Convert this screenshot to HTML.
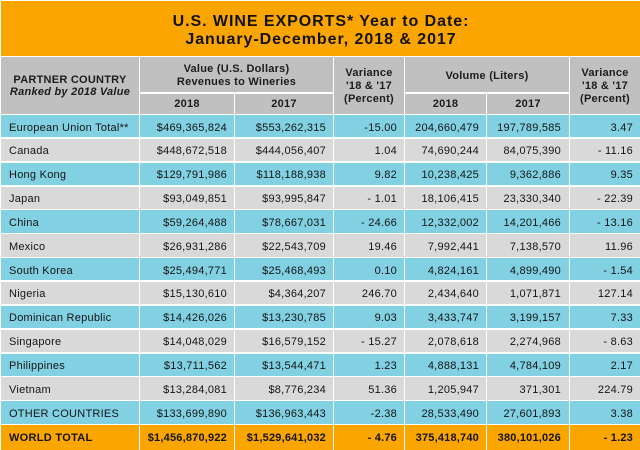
<!DOCTYPE html>
<html>
<head>
<meta charset="utf-8">
<style>
  html,body{margin:0;padding:0;background:#fff;}
  #c{position:relative;width:640px;height:450px;overflow:hidden;background:#fff;
     font-family:"Liberation Sans",Arial,sans-serif;color:#141414;}
  .abs{position:absolute;}
  .title{left:1px;top:1px;width:639px;height:55px;background:#FBA500;}
  .title div{position:absolute;left:0;width:640px;text-align:center;font-weight:bold;
     font-size:16px;line-height:17.5px;letter-spacing:0.95px;color:#111;}
  .hdr{left:1px;top:57.3px;width:639px;height:56.5px;background:#C0C0C0;}
  .ht{position:absolute;text-align:center;font-weight:bold;font-size:11px;letter-spacing:0.25px;color:#1c1c1c;white-space:nowrap;}
  .r{position:absolute;left:1px;width:639px;height:22.35px;}
  .b{background:#81D1E3;}
  .g{background:#D9D9D9;}
  .o{background:#FBA500;}
  .r span{position:absolute;top:1.5px;line-height:22.35px;font-size:11px;white-space:nowrap;}
  .r .n{left:8px;letter-spacing:0.25px;}
  .r .v{letter-spacing:0.25px;}
  .c1{right:413px;} .c2{right:314px;} .c3{right:243px;}
  .c4{right:161px;} .c5{right:79px;} .c6{right:7px;}
  .w span{font-weight:bold;top:0.5px;line-height:24.3px;}
  .w .v{letter-spacing:0.2px;}
  .w .n{letter-spacing:0.3px;}
  .vl{position:absolute;width:1.5px;background:#fff;}
  .hl{position:absolute;height:1.5px;background:#fff;}
</style>
</head>
<body>
<div id="c">
  <div class="abs title">
    <div style="top:12.2px;">U.S. WINE EXPORTS* Year to Date:</div>
    <div style="top:29.7px;">January-December, 2018 &amp; 2017</div>
  </div>

  <div class="abs hdr"></div>
  <div class="ht" style="left:1px;width:138px;top:73.8px;line-height:12.5px;">PARTNER COUNTRY<br><i>Ranked by 2018 Value</i></div>
  <div class="ht" style="left:140px;width:193px;top:63px;line-height:12.6px;">Value (U.S. Dollars)<br>Revenues to Wineries</div>
  <div class="ht" style="left:334px;width:70px;top:67.2px;line-height:13px;">Variance<br>'18 &amp; '17<br>(Percent)</div>
  <div class="ht" style="left:405px;width:164px;top:69.5px;line-height:12.5px;">Volume (Liters)</div>
  <div class="ht" style="left:570px;width:70px;top:67.2px;line-height:13px;">Variance<br>'18 &amp; '17<br>(Percent)</div>
  <div class="ht" style="left:140px;width:94px;top:97.8px;line-height:12.5px;">2018</div>
  <div class="ht" style="left:235px;width:98px;top:97.8px;line-height:12.5px;">2017</div>
  <div class="ht" style="left:405px;width:81px;top:97.8px;line-height:12.5px;">2018</div>
  <div class="ht" style="left:487px;width:82px;top:97.8px;line-height:12.5px;">2017</div>

  <div class="r b" style="top:115px;"><span class="n">European Union Total**</span><span class="v c1">$469,365,824</span><span class="v c2">$553,262,315</span><span class="v c3">-15.00</span><span class="v c4">204,660,479</span><span class="v c5">197,789,585</span><span class="v c6">3.47</span></div>
  <div class="r g" style="top:138.85px;"><span class="n">Canada</span><span class="v c1">$448,672,518</span><span class="v c2">$444,056,407</span><span class="v c3">1.04</span><span class="v c4">74,690,244</span><span class="v c5">84,075,390</span><span class="v c6">- 11.16</span></div>
  <div class="r b" style="top:162.7px;"><span class="n">Hong Kong</span><span class="v c1">$129,791,986</span><span class="v c2">$118,188,938</span><span class="v c3">9.82</span><span class="v c4">10,238,425</span><span class="v c5">9,362,886</span><span class="v c6">9.35</span></div>
  <div class="r g" style="top:186.55px;"><span class="n">Japan</span><span class="v c1">$93,049,851</span><span class="v c2">$93,995,847</span><span class="v c3">- 1.01</span><span class="v c4">18,106,415</span><span class="v c5">23,330,340</span><span class="v c6">- 22.39</span></div>
  <div class="r b" style="top:210.4px;"><span class="n">China</span><span class="v c1">$59,264,488</span><span class="v c2">$78,667,031</span><span class="v c3">- 24.66</span><span class="v c4">12,332,002</span><span class="v c5">14,201,466</span><span class="v c6">- 13.16</span></div>
  <div class="r g" style="top:234.25px;"><span class="n">Mexico</span><span class="v c1">$26,931,286</span><span class="v c2">$22,543,709</span><span class="v c3">19.46</span><span class="v c4">7,992,441</span><span class="v c5">7,138,570</span><span class="v c6">11.96</span></div>
  <div class="r b" style="top:258.1px;"><span class="n">South Korea</span><span class="v c1">$25,494,771</span><span class="v c2">$25,468,493</span><span class="v c3">0.10</span><span class="v c4">4,824,161</span><span class="v c5">4,899,490</span><span class="v c6">- 1.54</span></div>
  <div class="r g" style="top:281.95px;"><span class="n">Nigeria</span><span class="v c1">$15,130,610</span><span class="v c2">$4,364,207</span><span class="v c3">246.70</span><span class="v c4">2,434,640</span><span class="v c5">1,071,871</span><span class="v c6">127.14</span></div>
  <div class="r b" style="top:305.8px;"><span class="n">Dominican Republic</span><span class="v c1">$14,426,026</span><span class="v c2">$13,230,785</span><span class="v c3">9.03</span><span class="v c4">3,433,747</span><span class="v c5">3,199,157</span><span class="v c6">7.33</span></div>
  <div class="r g" style="top:329.65px;"><span class="n">Singapore</span><span class="v c1">$14,048,029</span><span class="v c2">$16,579,152</span><span class="v c3">- 15.27</span><span class="v c4">2,078,618</span><span class="v c5">2,274,968</span><span class="v c6">- 8.63</span></div>
  <div class="r b" style="top:353.5px;"><span class="n">Philippines</span><span class="v c1">$13,711,562</span><span class="v c2">$13,544,471</span><span class="v c3">1.23</span><span class="v c4">4,888,131</span><span class="v c5">4,784,109</span><span class="v c6">2.17</span></div>
  <div class="r g" style="top:377.35px;"><span class="n">Vietnam</span><span class="v c1">$13,284,081</span><span class="v c2">$8,776,234</span><span class="v c3">51.36</span><span class="v c4">1,205,947</span><span class="v c5">371,301</span><span class="v c6">224.79</span></div>
  <div class="r b" style="top:401.2px;"><span class="n">OTHER COUNTRIES</span><span class="v c1">$133,699,890</span><span class="v c2">$136,963,443</span><span class="v c3">-2.38</span><span class="v c4">28,533,490</span><span class="v c5">27,601,893</span><span class="v c6">3.38</span></div>
  <div class="r o w" style="top:425.05px;height:24.95px;"><span class="n">WORLD TOTAL</span><span class="v c1">$1,456,870,922</span><span class="v c2">$1,529,641,032</span><span class="v c3">- 4.76</span><span class="v c4">375,418,740</span><span class="v c5">380,101,026</span><span class="v c6">- 1.23</span></div>

  <div class="vl" style="left:138.5px;top:57px;height:393px;"></div>
  <div class="vl" style="left:332.5px;top:57px;height:393px;"></div>
  <div class="vl" style="left:403.5px;top:57px;height:393px;"></div>
  <div class="vl" style="left:568.5px;top:57px;height:393px;"></div>
  <div class="vl" style="left:233.5px;top:92px;height:358px;"></div>
  <div class="vl" style="left:485.5px;top:92px;height:358px;"></div>
  <div class="hl" style="left:139px;width:194px;top:92px;"></div>
  <div class="hl" style="left:404px;width:165px;top:92px;"></div>
</div>
</body>
</html>
